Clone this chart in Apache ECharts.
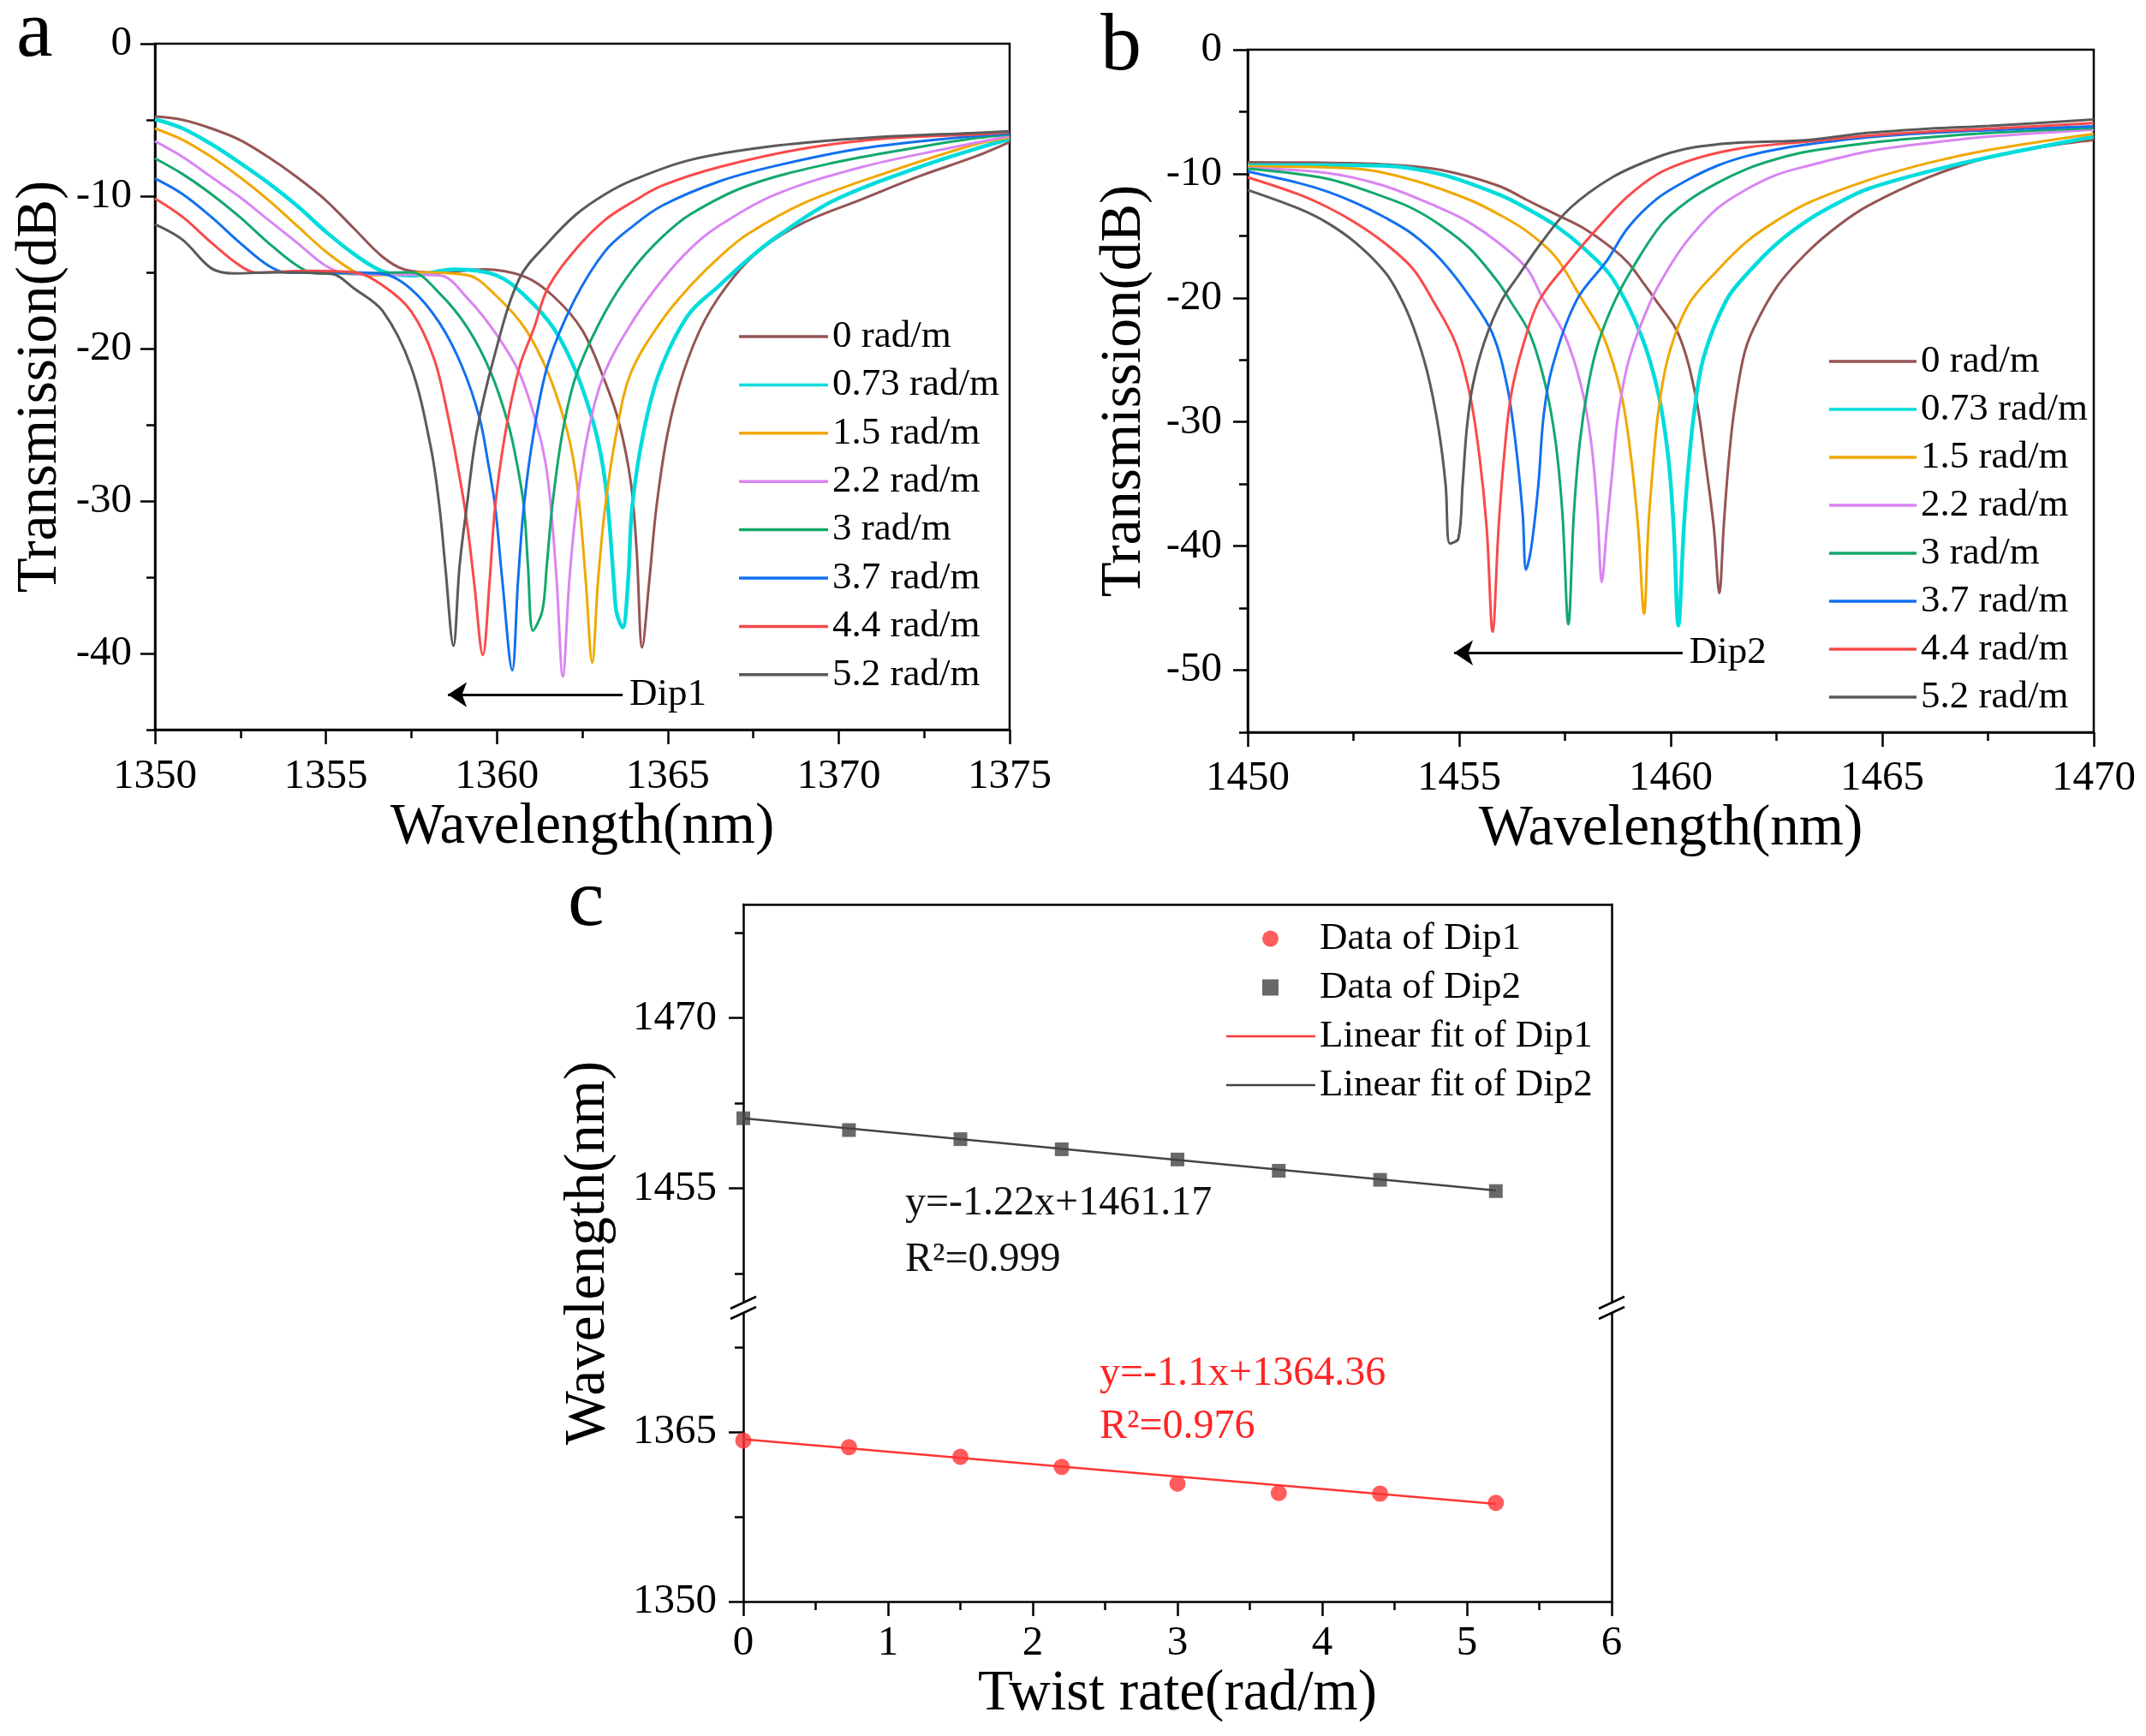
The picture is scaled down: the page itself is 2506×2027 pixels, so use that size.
<!DOCTYPE html>
<html><head><meta charset="utf-8">
<script src="https://cdn.jsdelivr.net/npm/echarts@6/dist/echarts.min.js"></script>
<style>html,body{margin:0;padding:0;background:#fff}#c{width:2506px;height:2027px}</style>
</head><body><div id="c"></div>
<script>
// ---------------- DATA ----------------
const twistLabels = ['0 rad/m','0.73 rad/m','1.5 rad/m','2.2 rad/m','3 rad/m','3.7 rad/m','4.4 rad/m','5.2 rad/m'];

// Panel a: Dip1 spectra [wavelength nm, transmission dB]
const a_0 = [[1350,-4.78],[1350.81,-5.0],[1351.65,-5.56],[1352.48,-6.31],[1353.31,-7.43],[1354.15,-8.75],[1354.98,-10.24],[1355.82,-12.12],[1356.66,-13.99],[1357.32,-14.83],[1358.32,-15.02],[1359.6,-14.81],[1360.83,-15.3],[1361.67,-16.6],[1362.5,-18.8],[1363.17,-22.2],[1363.58,-24.92],[1363.92,-28.8],[1364.09,-33.28],[1364.25,-39.6],[1364.46,-35.22],[1364.67,-30.36],[1365.0,-25.5],[1365.45,-21.6],[1366.09,-18.11],[1366.93,-15.3],[1367.76,-13.43],[1369.01,-11.7],[1370.68,-10.2],[1372.35,-8.7],[1374.0,-7.4],[1375,-6.45]];
const a_073 = [[1350,-4.96],[1350.81,-5.56],[1351.65,-6.59],[1352.48,-7.81],[1353.31,-9.12],[1354.15,-10.62],[1354.98,-12.3],[1355.82,-13.8],[1356.66,-14.93],[1357.49,-15.21],[1358.74,-14.81],[1359.99,-15.2],[1360.83,-16.56],[1361.67,-18.7],[1362.33,-21.61],[1362.83,-24.92],[1363.08,-27.44],[1363.25,-30.36],[1363.42,-35.22],[1363.5,-37.3],[1363.68,-38.3],[1363.84,-35.22],[1363.96,-30.36],[1364.29,-25.5],[1364.75,-21.6],[1365.6,-17.8],[1366.51,-15.86],[1367.34,-14.17],[1368.18,-12.68],[1369.85,-10.3],[1372.35,-8.1],[1374.0,-6.9],[1375,-6.25]];
const a_15 = [[1350,-5.56],[1350.81,-6.31],[1351.65,-7.43],[1352.48,-8.75],[1353.31,-10.24],[1354.15,-11.93],[1354.98,-13.61],[1355.82,-14.93],[1356.32,-15.21],[1357.8,-15.0],[1359.16,-15.2],[1359.99,-16.56],[1360.83,-18.7],[1361.5,-21.61],[1362.0,-24.92],[1362.25,-27.44],[1362.42,-30.36],[1362.6,-35.22],[1362.79,-40.6],[1362.96,-35.22],[1363.17,-30.36],[1363.5,-25.5],[1363.92,-21.6],[1364.84,-18.11],[1365.67,-15.86],[1366.51,-13.99],[1367.34,-12.49],[1369.01,-10.43],[1371.52,-8.37],[1374.0,-6.6],[1375,-6.15]];
const a_22 = [[1350,-6.4],[1350.81,-7.43],[1351.65,-8.75],[1352.48,-10.06],[1353.31,-11.55],[1354.15,-13.05],[1354.98,-14.55],[1355.65,-15.11],[1357.0,-15.15],[1358.32,-15.2],[1359.16,-16.75],[1359.99,-19.08],[1360.66,-21.61],[1361.16,-24.92],[1361.42,-27.44],[1361.58,-30.36],[1361.75,-35.22],[1361.93,-41.5],[1362.12,-35.22],[1362.33,-30.36],[1362.67,-25.5],[1363.15,-21.6],[1364.0,-18.11],[1364.84,-15.49],[1365.67,-13.43],[1366.51,-11.93],[1368.18,-9.87],[1370.68,-8.09],[1373.19,-6.87],[1375,-6.05]];
const a_3 = [[1350,-7.53],[1350.81,-8.56],[1351.65,-9.87],[1352.48,-11.37],[1353.31,-13.05],[1354.15,-14.55],[1354.73,-15.07],[1356.2,-15.05],[1357.49,-15.0],[1358.32,-16.37],[1359.16,-18.7],[1359.83,-21.61],[1360.33,-24.92],[1360.58,-27.44],[1360.79,-30.36],[1360.91,-34.25],[1361.06,-38.5],[1361.33,-37.2],[1361.46,-34.25],[1361.62,-30.36],[1361.92,-25.5],[1362.33,-21.7],[1363.17,-17.6],[1364.0,-14.74],[1364.84,-12.68],[1365.67,-11.18],[1367.34,-9.31],[1369.85,-7.81],[1372.35,-6.78],[1374.0,-6.2],[1375,-5.95]];
const a_37 = [[1350,-8.84],[1350.81,-9.87],[1351.65,-11.37],[1352.48,-13.05],[1353.31,-14.55],[1353.89,-15.02],[1355.5,-15.0],[1356.66,-15.1],[1357.49,-16.1],[1358.32,-18.31],[1358.99,-21.22],[1359.49,-24.53],[1359.74,-27.44],[1359.95,-30.36],[1360.16,-35.22],[1360.45,-41.1],[1360.62,-35.22],[1360.79,-30.36],[1361.08,-25.5],[1361.5,-21.0],[1362.25,-16.9],[1363.17,-13.6],[1364.0,-11.93],[1364.84,-10.62],[1366.51,-9.03],[1368.18,-8.0],[1370.68,-6.87],[1374.0,-6.05],[1375,-5.9]];
const a_44 = [[1350,-10.15],[1350.81,-11.37],[1351.65,-13.05],[1352.48,-14.55],[1352.98,-15.02],[1354.5,-14.9],[1355.82,-15.0],[1356.66,-15.86],[1357.49,-17.55],[1358.16,-20.64],[1358.58,-24.53],[1358.91,-28.42],[1359.12,-31.33],[1359.33,-35.22],[1359.59,-40.1],[1359.79,-35.22],[1359.95,-30.36],[1360.25,-25.5],[1360.66,-21.22],[1361.08,-18.7],[1361.5,-16.0],[1362.33,-13.43],[1363.17,-11.55],[1364.0,-10.34],[1364.84,-9.31],[1366.51,-8.09],[1369.01,-6.87],[1371.5,-6.2],[1374.0,-5.95],[1375,-5.8]];
const a_52 = [[1350,-11.85],[1350.81,-12.87],[1351.65,-14.74],[1352.32,-15.07],[1353.5,-15.0],[1355.15,-15.1],[1355.82,-16.05],[1356.66,-17.54],[1357.49,-21.2],[1358.07,-26.5],[1358.32,-30.36],[1358.49,-34.25],[1358.73,-39.5],[1358.91,-34.25],[1359.12,-30.36],[1359.41,-25.5],[1359.91,-20.64],[1360.66,-15.4],[1361.5,-13.05],[1362.33,-11.18],[1363.17,-9.87],[1364.0,-8.93],[1365.67,-7.62],[1368.18,-6.69],[1371,-6.15],[1374.0,-5.85],[1375,-5.75]];

// Panel b: Dip2 spectra
const b_0 = [[1450,-9.08],[1451.5,-9.1],[1453.23,-9.24],[1454.57,-9.7],[1455.93,-10.97],[1456.6,-12.11],[1457.28,-13.26],[1457.95,-14.41],[1458.62,-16.02],[1459.0,-17.2],[1459.3,-18.55],[1459.64,-20.16],[1460.18,-22.9],[1460.58,-27.75],[1460.85,-33.95],[1461.02,-38.55],[1461.15,-43.8],[1461.25,-38.55],[1461.35,-33.95],[1461.49,-29.35],[1461.72,-24.76],[1461.96,-22.46],[1462.53,-19.01],[1463.25,-16.25],[1463.96,-14.18],[1464.67,-12.57],[1466.1,-10.28],[1467.53,-8.66],[1468.95,-7.74],[1470,-7.28]];
const b_073 = [[1450,-9.31],[1451.6,-9.3],[1453.23,-9.35],[1454.57,-10.05],[1455.93,-11.66],[1456.6,-12.8],[1457.28,-14.18],[1457.95,-16.02],[1458.62,-18.4],[1459.3,-23.0],[1459.7,-27.6],[1459.94,-32.8],[1460.07,-38.55],[1460.18,-46.4],[1460.31,-38.55],[1460.41,-33.95],[1460.55,-29.35],[1460.78,-24.76],[1461.32,-20.16],[1461.82,-18.0],[1462.53,-15.56],[1463.25,-13.72],[1463.96,-12.34],[1464.67,-11.2],[1466.1,-9.81],[1467.53,-8.66],[1470,-7.01]];
const b_15 = [[1450,-9.4],[1452.55,-9.59],[1453.9,-10.51],[1455.25,-12.11],[1455.93,-13.26],[1456.6,-14.64],[1457.28,-16.71],[1457.88,-20.0],[1458.42,-23.2],[1458.83,-27.75],[1459.06,-32.8],[1459.23,-38.55],[1459.37,-45.45],[1459.47,-38.55],[1459.57,-33.95],[1459.7,-29.35],[1459.94,-24.76],[1460.41,-20.6],[1461.1,-17.8],[1461.82,-15.4],[1462.53,-13.72],[1463.25,-12.34],[1464.67,-10.51],[1466.1,-9.12],[1467.53,-8.08],[1470,-6.78]];
const b_22 = [[1450,-9.54],[1451.88,-9.93],[1453.23,-10.97],[1454.57,-12.8],[1455.25,-13.95],[1455.93,-15.56],[1456.6,-17.63],[1456.97,-20.0],[1457.48,-22.9],[1457.88,-27.06],[1458.12,-31.66],[1458.27,-37.4],[1458.37,-42.9],[1458.49,-38.55],[1458.62,-33.95],[1458.76,-29.35],[1459.03,-24.76],[1459.54,-20.16],[1459.97,-17.5],[1460.39,-15.4],[1461.1,-12.8],[1461.82,-11.2],[1462.53,-10.05],[1463.25,-9.35],[1464.67,-8.2],[1466.1,-7.52],[1467.53,-7.0],[1470,-6.45]];
const b_3 = [[1450,-9.59],[1451.88,-10.4],[1453.23,-11.88],[1453.9,-12.8],[1454.57,-14.18],[1455.25,-16.02],[1455.93,-18.78],[1456.2,-20.2],[1456.67,-22.9],[1457.04,-27.06],[1457.28,-31.66],[1457.44,-37.4],[1457.58,-46.3],[1457.71,-37.4],[1457.85,-31.66],[1458.05,-27.06],[1458.29,-23.6],[1458.69,-20.16],[1459.15,-17.3],[1459.8,-14.0],[1460.39,-12.23],[1461.1,-10.74],[1461.82,-9.58],[1462.53,-8.78],[1463.25,-8.2],[1464.67,-7.52],[1466.1,-7.06],[1467.53,-6.71],[1470,-6.32]];
const b_37 = [[1450,-9.82],[1451.2,-10.74],[1451.88,-11.43],[1452.55,-12.34],[1453.23,-13.49],[1453.9,-14.87],[1454.57,-16.94],[1455.25,-19.9],[1455.79,-22.9],[1456.13,-27.06],[1456.33,-31.66],[1456.5,-37.4],[1456.58,-41.9],[1456.7,-40.2],[1456.87,-35.1],[1457.0,-29.35],[1457.21,-25.45],[1457.78,-20.16],[1458.49,-17.0],[1459.0,-14.3],[1459.68,-12.0],[1460.39,-10.51],[1461.1,-9.35],[1461.82,-8.55],[1462.53,-8.02],[1463.25,-7.63],[1464.67,-7.06],[1466.1,-6.71],[1467.53,-6.48],[1470,-6.18]];
const b_44 = [[1450,-10.28],[1451.2,-11.65],[1451.88,-12.68],[1452.55,-13.95],[1453.23,-15.56],[1453.9,-17.63],[1454.37,-20.16],[1454.91,-23.6],[1455.25,-27.75],[1455.48,-32.8],[1455.65,-38.55],[1455.79,-46.9],[1455.93,-38.55],[1456.06,-32.8],[1456.23,-27.75],[1456.53,-23.6],[1456.9,-20.16],[1457.61,-17.0],[1458.29,-14.3],[1458.96,-11.9],[1459.68,-10.04],[1460.39,-9.0],[1461.1,-8.31],[1461.82,-7.86],[1463.25,-7.4],[1464.67,-6.94],[1466.1,-6.6],[1467.53,-6.37],[1470,-5.91]];
const b_52 = [[1450,-11.31],[1451.2,-12.8],[1451.88,-13.95],[1452.55,-15.56],[1453.23,-17.86],[1453.57,-19.7],[1453.9,-22.2],[1454.24,-25.9],[1454.51,-30.5],[1454.68,-35.1],[1454.78,-39.8],[1454.98,-39.4],[1455.08,-35.1],[1455.18,-30.5],[1455.32,-27.06],[1455.59,-23.6],[1455.99,-20.3],[1456.4,-18.2],[1456.94,-15.56],[1457.61,-12.8],[1458.62,-10.28],[1459.68,-8.66],[1460.39,-7.97],[1461.1,-7.63],[1461.82,-7.46],[1463.25,-7.28],[1464.67,-6.7],[1466.1,-6.37],[1467.53,-6.14],[1470,-5.63]];

// Panel c: dip wavelength vs twist rate
const twistRate = [0, 0.73, 1.5, 2.2, 3, 3.7, 4.4, 5.2];
const dip1Wl = [1364.25, 1363.66, 1362.81, 1361.92, 1360.43, 1359.6, 1359.55, 1358.74];
const dip2Wl = [1461.18, 1460.14, 1459.34, 1458.45, 1457.55, 1456.56, 1455.76, 1454.77];
const fit1Ends = [[0, 1364.36], [5.2, 1358.64]];
const fit2Ends = [[0, 1461.17], [5.2, 1454.83]];

// tick labels
const aXRange = [1350, 1375];
const bXRange = [1450, 1470];
const aYTicks = [0, -10, -20, -30, -40];
const aYMinor = [-5, -15, -25, -35, -45];
const bYTicks = [0, -10, -20, -30, -40, -50];
const bYMinor = [-5, -15, -25, -35, -45, -55];
const cUpTicks = [1455, 1470];
const cUpMinor = [1447.5, 1462.5, 1477.5];
const cLoTicks = [1350, 1365];
const cLoMinor = [1357.5, 1372.5];

// ---------------- STYLE ----------------
const FONT = 'Liberation Serif';
const colors = ['#955454', '#00dcdc', '#f0a800', '#d985f2', '#12a86c', '#1170f0', '#f94a4a', '#5a5a5a'];
const widths = [3, 4.5, 3, 3, 3, 3, 3, 3];
const AX = {color: '#000', width: 2.5};
const plain = v => String(v);

function valueAxis(o) {
  const base = {
    type: 'value',
    splitLine: {show: false},
    axisLine: {show: true, onZero: false, lineStyle: AX},
    axisTick: {show: true, inside: false, length: 17, lineStyle: AX},
    axisLabel: {show: true, fontFamily: FONT, fontSize: 49, color: '#000', formatter: plain},
    nameTextStyle: {fontFamily: FONT, fontSize: 67, color: '#000'}
  };
  for (const k in o) {
    if (o[k] && typeof o[k] === 'object' && !Array.isArray(o[k]) && base[k]) base[k] = Object.assign({}, base[k], o[k]);
    else base[k] = o[k];
  }
  return base;
}
function minorYAxis(grid, min, max, vals) {
  return {type: 'value', gridIndex: grid, position: 'left', min: min, max: max,
    axisLine: {show: false}, splitLine: {show: false}, axisLabel: {show: false},
    axisTick: {show: true, inside: false, length: 10, lineStyle: AX, customValues: vals}};
}

const aData = [a_0, a_073, a_15, a_22, a_3, a_37, a_44, a_52];
const bData = [b_0, b_073, b_15, b_22, b_3, b_37, b_44, b_52];

const series = [];
aData.forEach((d, i) => series.push({
  type: 'line', name: twistLabels[i], xAxisIndex: 0, yAxisIndex: 0, data: d,
  symbol: 'none', showSymbol: false, smooth: 0.35,
  lineStyle: {color: colors[i], width: widths[i]}, itemStyle: {color: colors[i]}, z: 2 + i
}));
bData.forEach((d, i) => series.push({
  type: 'line', name: twistLabels[i], xAxisIndex: 1, yAxisIndex: 2, data: d,
  symbol: 'none', showSymbol: false, smooth: 0.35,
  lineStyle: {color: colors[i], width: widths[i]}, itemStyle: {color: colors[i]}, z: 2 + i
}));
// arrows
series[7].markLine = {
  silent: true, symbol: ['none', 'arrow'], symbolSize: 22, animation: false,
  lineStyle: {color: '#000', width: 3, type: 'solid'},
  label: {show: true, position: 'start', formatter: 'Dip1', fontFamily: FONT, fontSize: 45, color: '#000', distance: 8},
  data: [[{coord: [1363.68, -42.7]}, {coord: [1358.57, -42.7]}]]
};
series[15].markLine = {
  silent: true, symbol: ['none', 'arrow'], symbolSize: 22, animation: false,
  lineStyle: {color: '#000', width: 3, type: 'solid'},
  label: {show: true, position: 'start', formatter: 'Dip2', fontFamily: FONT, fontSize: 45, color: '#000', distance: 8},
  data: [[{coord: [1460.28, -48.6]}, {coord: [1454.88, -48.6]}]]
};
// panel c
series.push({type: 'line', name: 'Linear fit of Dip1', xAxisIndex: 3, yAxisIndex: 7, data: fit1Ends,
  symbol: 'none', showSymbol: false, lineStyle: {color: '#ff3535', width: 2.5}, itemStyle: {color: '#ff3535'}, z: 3});
series.push({type: 'line', name: 'Linear fit of Dip2', xAxisIndex: 2, yAxisIndex: 4, data: fit2Ends,
  symbol: 'none', showSymbol: false, lineStyle: {color: '#444', width: 2.5}, itemStyle: {color: '#444'}, z: 3});
series.push({type: 'scatter', name: 'Data of Dip1', xAxisIndex: 3, yAxisIndex: 7,
  data: twistRate.map((x, i) => [x, dip1Wl[i]]), symbol: 'circle', symbolSize: 19,
  itemStyle: {color: '#ff3535'}, z: 5});
series.push({type: 'scatter', name: 'Data of Dip2', xAxisIndex: 2, yAxisIndex: 4,
  data: twistRate.map((x, i) => [x, dip2Wl[i]]), symbol: 'rect', symbolSize: 16,
  itemStyle: {color: '#444'}, z: 5});

const legendText = {fontFamily: FONT, fontSize: 45, color: '#000', lineHeight: 46};
const lineIcon = names => names.map(n => ({name: n, icon: 'rect'}));

// break marks for panel c
const C_LEFT = 868, C_RIGHT = 1882, C_BREAK = 1527;
function breakMark(cx, cy) {
  return [
    {type: 'rect', shape: {x: cx - 4, y: cy - 6, width: 8, height: 12}, style: {fill: '#fff'}, z: 100},
    {type: 'line', shape: {x1: cx - 15, y1: cy + 1, x2: cx + 15, y2: cy - 13}, style: {stroke: '#000', lineWidth: 2.5}, z: 101},
    {type: 'line', shape: {x1: cx - 15, y1: cy + 13, x2: cx + 15, y2: cy - 1}, style: {stroke: '#000', lineWidth: 2.5}, z: 101}
  ];
}
function txt(s, x, y, size, color) {
  return {type: 'text', x: x, y: y, z: 50, style: {text: s, fontSize: size, fontFamily: FONT, fill: color,
    align: 'left', verticalAlign: 'middle', textAlign: 'left', textVerticalAlign: 'middle'}};
}

const option = {
  animation: false,
  backgroundColor: '#fff',
  grid: [
    {left: 181, top: 51, width: 998, height: 801, show: true, borderColor: '#000', borderWidth: 2.5, backgroundColor: 'transparent', outerBoundsMode: 'none'},
    {left: 1457, top: 58, width: 988, height: 797, show: true, borderColor: '#000', borderWidth: 2.5, backgroundColor: 'transparent', outerBoundsMode: 'none'},
    {left: C_LEFT, top: 1056, width: C_RIGHT - C_LEFT, height: C_BREAK - 1056, outerBoundsMode: 'none'},
    {left: C_LEFT, top: C_BREAK, width: C_RIGHT - C_LEFT, height: 1870 - C_BREAK, outerBoundsMode: 'none'}
  ],
  xAxis: [
    valueAxis({gridIndex: 0, min: aXRange[0], max: aXRange[1], interval: 5,
      minorTick: {show: true, splitNumber: 2, length: 10, lineStyle: AX},
      axisLabel: {margin: 31}, name: 'Wavelength(nm)', nameLocation: 'middle', nameGap: 66}),
    valueAxis({gridIndex: 1, min: bXRange[0], max: bXRange[1], interval: 5,
      minorTick: {show: true, splitNumber: 2, length: 10, lineStyle: AX},
      axisLabel: {margin: 30}, name: 'Wavelength(nm)', nameLocation: 'middle', nameGap: 63}),
    {type: 'value', gridIndex: 2, position: 'top', min: 0, max: 6, splitLine: {show: false},
      axisLine: {show: true, onZero: false, lineStyle: AX}, axisTick: {show: false}, axisLabel: {show: false}},
    valueAxis({gridIndex: 3, min: 0, max: 6, interval: 1,
      minorTick: {show: true, splitNumber: 2, length: 10, lineStyle: AX},
      axisLabel: {margin: 25}, name: 'Twist rate(rad/m)', nameLocation: 'middle', nameGap: 55})
  ],
  yAxis: [
    valueAxis({gridIndex: 0, min: -45, max: 0, position: 'left',
      axisTick: {customValues: aYTicks}, axisLabel: {customValues: aYTicks, margin: 27},
      name: 'Transmission(dB)', nameLocation: 'middle', nameGap: 100}),
    minorYAxis(0, -45, 0, aYMinor),
    valueAxis({gridIndex: 1, min: -55, max: 0, position: 'left',
      axisTick: {customValues: bYTicks}, axisLabel: {customValues: bYTicks, margin: 30},
      name: 'Transmission(dB)', nameLocation: 'middle', nameGap: 110}),
    minorYAxis(1, -55, 0, bYMinor),
    valueAxis({gridIndex: 2, min: 1444.5, max: 1480, position: 'left',
      axisTick: {customValues: cUpTicks}, axisLabel: {customValues: cUpTicks, margin: 31}}),
    minorYAxis(2, 1444.5, 1480, cUpMinor),
    {type: 'value', gridIndex: 2, position: 'right', min: 1444.5, max: 1480, splitLine: {show: false},
      axisLine: {show: true, onZero: false, lineStyle: AX}, axisTick: {show: false}, axisLabel: {show: false}},
    valueAxis({gridIndex: 3, min: 1350, max: 1376, position: 'left',
      axisTick: {customValues: cLoTicks}, axisLabel: {customValues: cLoTicks, margin: 31}}),
    minorYAxis(3, 1350, 1376, cLoMinor),
    {type: 'value', gridIndex: 3, position: 'right', min: 1350, max: 1376, splitLine: {show: false},
      axisLine: {show: true, onZero: false, lineStyle: AX}, axisTick: {show: false}, axisLabel: {show: false}}
  ],
  legend: [
    {orient: 'vertical', left: 858, top: 365, itemWidth: 104, itemHeight: 3.5, itemGap: 10.4,
      textStyle: legendText, data: lineIcon(twistLabels), selectedMode: false},
    {orient: 'vertical', left: 2131, top: 394, itemWidth: 102, itemHeight: 3.5, itemGap: 10,
      textStyle: legendText, data: lineIcon(twistLabels), selectedMode: false},
    {orient: 'vertical', left: 1469, top: 1068, itemWidth: 19, itemHeight: 19, itemGap: 11,
      textStyle: Object.assign({}, legendText, {padding: [0, 0, 0, 43]}), selectedMode: false,
      data: [{name: 'Data of Dip1', icon: 'circle'}, {name: 'Data of Dip2', icon: 'rect'}]},
    {orient: 'vertical', left: 1427, top: 1182, itemWidth: 104, itemHeight: 2.5, itemGap: 11,
      textStyle: legendText, selectedMode: false,
      data: lineIcon(['Linear fit of Dip1', 'Linear fit of Dip2'])}
  ],
  graphic: [
    txt('a', 19, 40, 96, '#000'),
    txt('b', 1285, 56, 96, '#000'),
    txt('c', 663, 1055, 96, '#000'),
    txt('y=-1.22x+1461.17', 1057, 1405, 48, '#111'),
    txt('R²=0.999', 1057, 1471, 48, '#111'),
    txt('y=-1.1x+1364.36', 1284, 1604, 48, '#ff2424'),
    txt('R²=0.976', 1284, 1666, 48, '#ff2424'),
    {type: 'text', x: 687, y: 1463, rotation: Math.PI / 2, z: 50,
      style: {text: 'Wavelength(nm)', fontSize: 67, fontFamily: FONT, fill: '#000',
        align: 'center', verticalAlign: 'middle', textAlign: 'center', textVerticalAlign: 'middle'}}
  ].concat(breakMark(C_LEFT, C_BREAK), breakMark(C_RIGHT, C_BREAK)),
  series: series
};

const chart = echarts.init(document.getElementById('c'), null, {renderer: 'canvas', width: 2506, height: 2027});
chart.setOption(option);
</script></body></html>
